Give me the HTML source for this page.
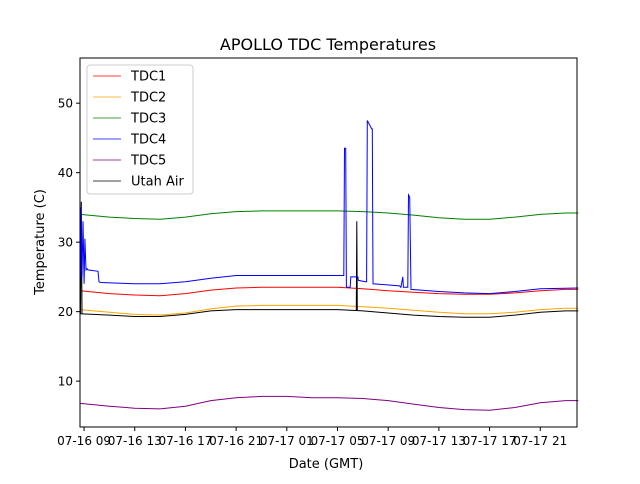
<!DOCTYPE html>
<html><head><meta charset="utf-8"><style>
body{margin:0;background:#fff;font-family:"DejaVu Sans","Liberation Sans",sans-serif;}
svg text{font-family:"DejaVu Sans","Liberation Sans",sans-serif;}
</style></head><body>
<svg id="chart" width="640" height="480" xmlns="http://www.w3.org/2000/svg">
<rect width="640" height="480" fill="#fff"/>
<text x="328" y="50" font-size="16" text-anchor="middle">APOLLO TDC Temperatures</text>
<g id="series"></g>
<rect x="80" y="58" width="497" height="369" fill="none" stroke="#000" stroke-width="1"/>
<g id="axes" font-size="12"></g>
<text x="326" y="468" font-size="13" text-anchor="middle">Date (GMT)</text>
<text transform="translate(44,242) rotate(-90)" font-size="13" text-anchor="middle">Temperature (C)</text>
<g id="legend">
<rect x="87" y="65" width="106" height="129" rx="3" fill="#fff" fill-opacity="0.8" stroke="#ccc"/>
</g>
</svg>
<script>
const hours = [8.7,11,13,15,17,19,21,23,25,27,29,31,33,35,37,39,41,43,45,47,48];
const tdc1 = [23.0,22.6,22.4,22.3,22.6,23.1,23.4,23.5,23.5,23.5,23.5,23.3,23.0,22.8,22.6,22.5,22.5,22.7,23.0,23.2,23.2];
const tdc2 = [20.3,19.9,19.6,19.5,19.8,20.4,20.8,20.9,20.9,20.9,20.9,20.7,20.5,20.2,19.9,19.7,19.7,19.9,20.3,20.5,20.5];
const tdc3 = [34.0,33.6,33.4,33.3,33.6,34.1,34.4,34.5,34.5,34.5,34.5,34.4,34.2,33.9,33.5,33.3,33.3,33.6,34.0,34.2,34.2];
const tdc5 = [6.8,6.4,6.1,6.0,6.4,7.2,7.6,7.8,7.8,7.6,7.6,7.5,7.2,6.7,6.2,5.9,5.8,6.2,6.9,7.2,7.2];
const air = [19.7,19.5,19.3,19.3,19.6,20.1,20.3,20.3,20.3,20.3,20.3,20.1,19.8,19.5,19.3,19.2,19.2,19.5,19.9,20.1,20.1];
const tdc4Hours = [8.7,8.76,8.84,8.92,9.0,9.07,9.15,9.23,9.3,10.1,10.18,10.3,13,15,17,19,21,25,29,29.5,29.55,29.65,29.7,30.0,30.05,30.6,30.65,31.2,31.3,31.35,31.7,31.75,31.8,33.9,34.0,34.15,34.2,34.3,34.55,34.6,34.7,34.8,37,39,41,43,45,48];
const tdc4Vals = [24.5,35.0,25.0,33.0,24.0,30.5,26.0,26.2,26.0,25.8,24.3,24.2,24.0,24.0,24.3,24.8,25.2,25.2,25.2,25.2,43.5,43.5,23.5,23.5,25.0,25.0,24.5,24.3,24.3,47.5,46.3,46.3,24.0,23.7,23.5,25.0,23.5,23.5,23.5,36.8,36.5,23.2,22.9,22.7,22.6,22.9,23.3,23.4];
const airSpikeHours = [8.72,8.78,8.84,30.48,30.52,30.56];
const airSpikeVals = [19.7,35.8,19.7,20.2,33.0,20.2];
const yTicks = [10,20,30,40,50];
const xTickHours = [9,13,17,21,25,29,33,37,41,45];
const xTickLabels = ["07-16 09","07-16 13","07-16 17","07-16 21","07-17 01","07-17 05","07-17 09","07-17 13","07-17 17","07-17 21"];
const seriesNames = ["TDC1","TDC2","TDC3","TDC4","TDC5","Utah Air"];
const seriesColors = ["red","orange","green","blue","purple","black"];

const X0=80,X1=577,Y0=58,Y1=427,HMIN=8.68,HMAX=47.9,VMIN=3.4,VMAX=56.5;
const xs=h=>X0+(h-HMIN)/(HMAX-HMIN)*(X1-X0);
const ys=v=>Y1-(v-VMIN)/(VMAX-VMIN)*(Y1-Y0);
const NS="http://www.w3.org/2000/svg";
const sg=document.getElementById('series');
function line(hs,vs,color,name){
  const p=document.createElementNS(NS,'polyline');
  p.setAttribute('points',hs.map((h,i)=>xs(h).toFixed(1)+','+ys(vs[i]).toFixed(1)).join(' '));
  p.setAttribute('fill','none');p.setAttribute('stroke',color);p.setAttribute('stroke-width','1');
  
  
  sg.appendChild(p);
}
line(hours,tdc1,'red','tdc1-line');
line(hours,tdc2,'orange','tdc2-line');
line(hours,tdc3,'green','tdc3-line');
line(hours,tdc5,'purple','tdc5-line');
line(hours,air,'black','utah-air-line');
line(airSpikeHours.slice(0,3),airSpikeVals.slice(0,3),'black','utah-air-spike-early');
line(airSpikeHours.slice(3),airSpikeVals.slice(3),'black','utah-air-spike-late');
line(tdc4Hours,tdc4Vals,'blue','tdc4-line');

const ax=document.getElementById('axes');
yTicks.forEach(v=>{
  const y=ys(v);
  const t=document.createElementNS(NS,'line');
  t.setAttribute('x1',X0-4);t.setAttribute('x2',X0);t.setAttribute('y1',y);t.setAttribute('y2',y);t.setAttribute('stroke','#000');
  
  
  ax.appendChild(t);
  const l=document.createElementNS(NS,'text');
  l.setAttribute('x',X0-7);l.setAttribute('y',y+4.5);l.setAttribute('text-anchor','end');l.textContent=v;
  
  
  ax.appendChild(l);
});
xTickHours.forEach((h,i)=>{
  const x=xs(h);
  const t=document.createElementNS(NS,'line');
  t.setAttribute('x1',x);t.setAttribute('x2',x);t.setAttribute('y1',Y1);t.setAttribute('y2',Y1+4);t.setAttribute('stroke','#000');
  
  
  ax.appendChild(t);
  const l=document.createElementNS(NS,'text');
  l.setAttribute('x',x);l.setAttribute('y',Y1+18);l.setAttribute('text-anchor','middle');l.textContent=xTickLabels[i];
  
  
  ax.appendChild(l);
});
const lg=document.getElementById('legend');
seriesNames.forEach((n,i)=>{
  const y=76+i*21;
  const g=document.createElementNS(NS,'g');
  
  
  const l=document.createElementNS(NS,'line');
  l.setAttribute('x1',93);l.setAttribute('x2',121);l.setAttribute('y1',y);l.setAttribute('y2',y);
  l.setAttribute('stroke',seriesColors[i]);l.setAttribute('stroke-width','0.8');
  g.appendChild(l);
  const t=document.createElementNS(NS,'text');
  t.setAttribute('x',131);t.setAttribute('y',y+4.5);t.setAttribute('font-size','13');t.textContent=n;
  g.appendChild(t);
  lg.appendChild(g);
});
</script>
</body></html>
